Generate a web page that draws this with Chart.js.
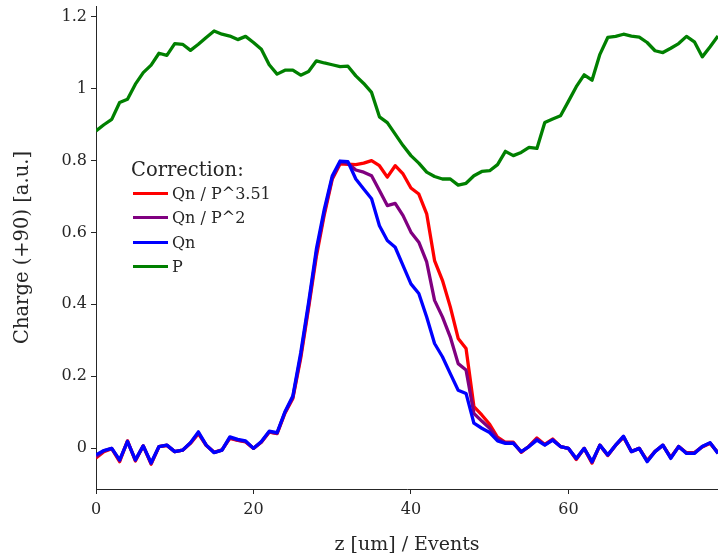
<!DOCTYPE html>
<html>
<head>
<meta charset="utf-8">
<script src="https://cdn.jsdelivr.net/npm/chart.js@4.4.1/dist/chart.umd.min.js"></script>
<style>
    body { margin: 0; background: #fff; }
    #wrap { position: relative; width: 718px; height: 557px; }
    #legend {
        position: absolute; left: 131px; top: 159px;
        font-family: 'DejaVu Serif', serif; color: #262626;
    }
    #legend .title { font-size: 19.5px; line-height: 22px; }
    #legend .row { display: flex; align-items: center; height: 24.5px; font-size: 16px; }
    #legend .swatch { width: 35px; height: 3px; margin-left: 2px; margin-right: 4px; }
</style>
</head>
<body>
<div id="wrap">
    <canvas id="chargeChart"></canvas>
    <div id="legend"></div>
</div>
<script>
// z positions (one point per bin)
const zPos = [0, 1, 2, 3, 4, 5, 6, 7, 8, 9, 10, 11, 12, 13, 14, 15, 16, 17, 18, 19,
    20, 21, 22, 23, 24, 25, 26, 27, 28, 29, 30, 31, 32, 33, 34, 35, 36, 37, 38, 39,
    40, 41, 42, 43, 44, 45, 46, 47, 48, 49, 50, 51, 52, 53, 54, 55, 56, 57, 58, 59,
    60, 61, 62, 63, 64, 65, 66, 67, 68, 69, 70, 71, 72, 73, 74, 75, 76, 77, 78, 79];

// Qn / P^3.51
const qnP351 = [-0.028, -0.010, -0.002, -0.038, 0.020, -0.036, 0.006, -0.045, 0.004, 0.007,
    -0.010, -0.006, 0.013, 0.040, 0.007, -0.012, -0.005, 0.027, 0.021, 0.017,
    -0.001, 0.016, 0.044, 0.040, 0.097, 0.138, 0.250, 0.390, 0.535, 0.650,
    0.748, 0.791, 0.790, 0.789, 0.793, 0.800, 0.786, 0.754, 0.786, 0.763,
    0.724, 0.707, 0.652, 0.522, 0.467, 0.393, 0.305, 0.277, 0.115, 0.092,
    0.066, 0.030, 0.016, 0.016, -0.012, 0.005, 0.028, 0.010, 0.025, 0.004,
    -0.001, -0.032, -0.001, -0.042, 0.008, -0.021, 0.008, 0.030, -0.009, -0.001,
    -0.035, -0.009, 0.007, -0.026, 0.004, -0.013, -0.013, 0.003, 0.013, -0.013];

// Qn / P^2
const qnP2 = [-0.024, -0.008, -0.001, -0.035, 0.019, -0.034, 0.006, -0.043, 0.004, 0.008,
    -0.010, -0.006, 0.014, 0.042, 0.008, -0.012, -0.006, 0.029, 0.022, 0.018,
    -0.001, 0.017, 0.045, 0.041, 0.099, 0.141, 0.257, 0.397, 0.545, 0.657,
    0.752, 0.795, 0.793, 0.774, 0.768, 0.758, 0.717, 0.675, 0.681, 0.647,
    0.601, 0.573, 0.518, 0.411, 0.365, 0.309, 0.235, 0.217, 0.096, 0.075,
    0.055, 0.025, 0.015, 0.015, -0.011, 0.005, 0.025, 0.009, 0.023, 0.004,
    -0.001, -0.030, -0.001, -0.040, 0.008, -0.020, 0.008, 0.031, -0.010, -0.001,
    -0.036, -0.010, 0.008, -0.027, 0.004, -0.014, -0.014, 0.004, 0.014, -0.014];

// Qn (no correction)
const qn = [-0.019, -0.007, -0.001, -0.033, 0.018, -0.033, 0.006, -0.041, 0.004, 0.008,
    -0.010, -0.006, 0.015, 0.045, 0.008, -0.013, -0.006, 0.031, 0.024, 0.020,
    -0.001, 0.018, 0.047, 0.043, 0.101, 0.145, 0.265, 0.405, 0.555, 0.665,
    0.757, 0.799, 0.797, 0.749, 0.721, 0.694, 0.619, 0.578, 0.559, 0.508,
    0.457, 0.430, 0.365, 0.291, 0.254, 0.207, 0.161, 0.152, 0.069, 0.055,
    0.043, 0.020, 0.013, 0.013, -0.010, 0.004, 0.022, 0.008, 0.022, 0.004,
    -0.001, -0.029, -0.001, -0.038, 0.008, -0.019, 0.008, 0.033, -0.010, -0.001,
    -0.038, -0.010, 0.008, -0.029, 0.004, -0.015, -0.015, 0.004, 0.015, -0.015];

// P
const pVals = [0.883, 0.900, 0.915, 0.962, 0.971, 1.013, 1.045, 1.066, 1.099, 1.093,
    1.126, 1.124, 1.107, 1.124, 1.143, 1.161, 1.152, 1.147, 1.137, 1.146,
    1.129, 1.110, 1.067, 1.041, 1.052, 1.052, 1.038, 1.048, 1.078, 1.072,
    1.067, 1.062, 1.063, 1.036, 1.015, 0.990, 0.922, 0.906, 0.874, 0.842,
    0.814, 0.793, 0.768, 0.756, 0.749, 0.749, 0.732, 0.737, 0.758, 0.770,
    0.772, 0.789, 0.826, 0.814, 0.823, 0.837, 0.834, 0.906, 0.916, 0.925,
    0.965, 1.006, 1.039, 1.024, 1.096, 1.143, 1.146, 1.152, 1.147, 1.144,
    1.129, 1.106, 1.101, 1.113, 1.126, 1.146, 1.131, 1.089, 1.117, 1.147];

const xTicks = [0, 20, 40, 60];
const yTicks = [0, 0.2, 0.4, 0.6, 0.8, 1, 1.2];

const FONT = 'DejaVu Serif';
const INK = '#262626';

// Build {x, y} points for one series
function toPoints(values) {
    return zPos.map((z, i) => ({ x: z, y: values[i] }));
}

// Force the tick marks to the listed values
function useTicks(list) {
    return function (scale) {
        scale.ticks = list.map(v => ({ value: v }));
    };
}

function lineSet(label, values, color, order) {
    return {
        label: label,
        data: toPoints(values),
        borderColor: color,
        backgroundColor: color,
        borderWidth: 3.3,
        borderJoinStyle: 'round',
        pointRadius: 0,
        tension: 0,
        order: order
    };
}

const ctx = document.getElementById('chargeChart').getContext('2d');
const chargeChart = new Chart(ctx, {
    type: 'line',
    data: {
        datasets: [
            lineSet('Qn / P^3.51', qnP351, '#ff0000', 4),
            lineSet('Qn / P^2', qnP2, '#800080', 3),
            lineSet('Qn', qn, '#0000ff', 2),
            lineSet('P', pVals, '#008000', 1)
        ]
    },
    options: {
        responsive: true,
        maintainAspectRatio: false,
        animation: false,
        layout: { padding: { top: 6, left: 0, right: 0, bottom: 0 } },
        plugins: {
            legend: { display: false },
            tooltip: { enabled: false }
        },
        scales: {
            x: {
                type: 'linear',
                min: 0,
                max: 79,
                afterBuildTicks: useTicks(xTicks),
                afterFit: function (scale) {
                    scale.height = 68;
                    scale.paddingLeft = 0;
                    scale.paddingRight = 0;
                },
                grid: { drawOnChartArea: false, drawTicks: true, tickLength: 5, color: INK, lineWidth: 1 },
                border: { display: true, color: INK, width: 1 },
                ticks: {
                    color: INK,
                    padding: 6,
                    maxRotation: 0,
                    font: { family: FONT, size: 16 },
                    callback: value => String(value)
                },
                title: {
                    display: true,
                    text: 'z [um] / Events',
                    color: INK,
                    font: { family: FONT, size: 19 },
                    padding: { top: 0, bottom: 1 }
                }
            },
            y: {
                min: -0.1141,
                max: 1.2306,
                afterBuildTicks: useTicks(yTicks),
                afterFit: function (scale) {
                    scale.width = 96;
                    scale.paddingTop = 0;
                    scale.paddingBottom = 0;
                },
                grid: { drawOnChartArea: false, drawTicks: true, tickLength: 5, color: INK, lineWidth: 1 },
                border: { display: true, color: INK, width: 1 },
                ticks: {
                    color: INK,
                    padding: 4,
                    font: { family: FONT, size: 16 },
                    callback: value => String(value)
                },
                title: {
                    display: true,
                    text: 'Charge (+90) [a.u.]',
                    color: INK,
                    font: { family: FONT, size: 19.5 },
                    padding: { top: 11, bottom: 0 }
                }
            }
        }
    }
});

// HTML legend inside the plot, in drawing order of the original
function buildLegend(chart) {
    const box = document.getElementById('legend');
    const title = document.createElement('div');
    title.className = 'title';
    title.textContent = 'Correction:';
    box.appendChild(title);

    chart.data.datasets.forEach(ds => {
        const row = document.createElement('div');
        row.className = 'row';
        const swatch = document.createElement('span');
        swatch.className = 'swatch';
        swatch.style.background = ds.borderColor;
        const text = document.createElement('span');
        text.textContent = ds.label;
        row.appendChild(swatch);
        row.appendChild(text);
        box.appendChild(row);
    });
}

buildLegend(chargeChart);
</script>
</body>
</html>
